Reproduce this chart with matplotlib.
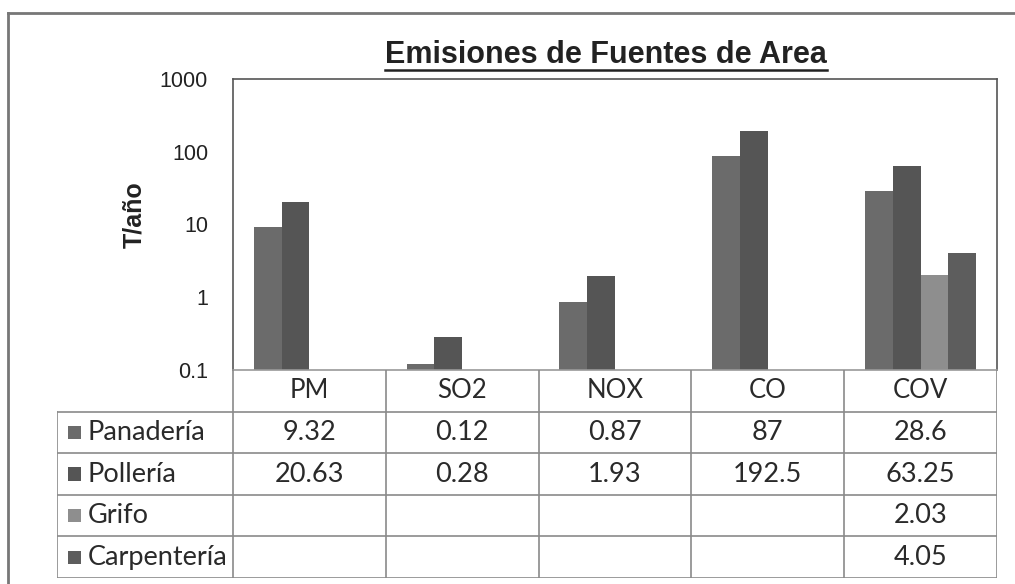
import numpy as np
import matplotlib
matplotlib.use("Agg")
import matplotlib.pyplot as plt
from matplotlib.patches import Rectangle
from matplotlib.lines import Line2D

# ---- data ----
categories = ["PM", "SO2", "NOX", "CO", "COV"]
series_names = ["Panadería", "Pollería", "Grifo", "Carpentería"]
panaderia = [9.32, 0.12, 0.87, 87, 28.6]
polleria = [20.63, 0.28, 1.93, 192.5, 63.25]
grifo = [None, None, None, None, 2.03]
carpenteria = [None, None, None, None, 4.05]
table_text = [
    ["9.32", "0.12", "0.87", "87", "28.6"],
    ["20.63", "0.28", "1.93", "192.5", "63.25"],
    ["", "", "", "", "2.03"],
    ["", "", "", "", "4.05"],
]
ytick_vals = [0.1, 1, 10, 100, 1000]
ytick_labels = ["0.1", "1", "10", "100", "1000"]
title = "Emisiones de Fuentes de Area"
ylabel = "T/año"

colors = ["#6b6b6b", "#555555", "#8e8e8e", "#5d5d5d"]

W, H = 1015, 584
fig = plt.figure(figsize=(W / 100, H / 100), dpi=100)

def fx(px):
    return px / W

def fy(py):
    return 1 - py / H

arial = ["Liberation Sans", "DejaVu Sans"]
calibri = ["Lato", "DejaVu Sans"]

# ---- bar axes ----
L, R, T, B = 233, 997, 79, 370
ax = fig.add_axes([fx(L), fy(B), fx(R - L), (B - T) / H])
ax.set_yscale("log")
ax.set_ylim(0.1, 1000)
ax.set_xlim(-0.5, len(categories) - 0.5)

all_series = [panaderia, polleria, grifo, carpenteria]
nser = len(all_series)
bw = 1.0 / (nser + 1.5)
x = np.arange(len(categories))
for i, (vals, c) in enumerate(zip(all_series, colors)):
    xs, hs = [], []
    for xi, v in zip(x, vals):
        if v is not None:
            xs.append(xi - 2 * bw + (i + 0.5) * bw)
            hs.append(v)
    ax.bar(xs, [h - 0.1 for h in hs], bottom=0.1, width=bw, color=c,
           edgecolor="none", align="center", zorder=2)

ax.set_yticks(ytick_vals)
ax.set_yticklabels(ytick_labels, fontfamily=arial, fontsize=15.5, color="#222222")
ax.yaxis.set_minor_locator(matplotlib.ticker.NullLocator())
ax.tick_params(axis="y", length=0, pad=18)
ax.set_xticks([])
for s in ax.spines.values():
    s.set_color("#555555")
    s.set_linewidth(1.2)
ax.spines["bottom"].set_color("#999999")

fig.text(fx(134), fy(215), ylabel, rotation=90, ha="center", va="center",
         fontsize=18, fontweight="bold", fontfamily=arial, color="#222222")

# title with underline
tt = fig.text(fx(606), fy(55), title, ha="center", va="center",
              fontsize=22, fontweight="bold", fontfamily=arial, color="#222222")
fig.canvas.draw()
bb = tt.get_window_extent()
fig.add_artist(Line2D([bb.x0 / W, bb.x1 / W], [(bb.y0 + 0.5) / H, (bb.y0 + 0.5) / H],
                      transform=fig.transFigure, color="#222222", lw=1.8))

# ---- data table ----
TL, TT, TB = 57, 370, 578
tax = fig.add_axes([fx(TL), fy(TB), fx(R - TL), (TB - TT) / H])
colw = (R - L) / len(categories)
left_units = (L - TL) / colw
tax.set_xlim(-0.5 - left_units, len(categories) - 0.5)
nrows = len(series_names) + 1
tax.set_ylim(0, nrows)
tax.axis("off")
gc = "#8a8a8a"
for r in range(nrows):
    tax.plot([-0.5 - left_units, len(categories) - 0.5], [r, r], color=gc, lw=1.2,
             solid_capstyle="butt")
for j in range(len(categories) + 1):
    tax.plot([j - 0.5, j - 0.5], [0, nrows], color=gc, lw=1.2)
tax.plot([-0.5 - left_units] * 2, [0, nrows - 1], color=gc, lw=1.2)

fs = 19.5
for j, cat in enumerate(categories):
    tax.text(j, nrows - 0.5, cat, ha="center", va="center", fontsize=18.5,
             fontfamily=calibri, color="#2a2a2a")
for i, name in enumerate(series_names):
    yc = nrows - 1.5 - i
    tax.text(-0.5 - left_units + 0.2, yc, name, ha="left", va="center",
             fontsize=fs, fontfamily=calibri, color="#2a2a2a")
    tax.add_patch(Rectangle((-0.5 - left_units + 0.07, yc - 0.16), 0.085, 0.32,
                            color=colors[i], lw=0))
    for j in range(len(categories)):
        tax.text(j, yc, table_text[i][j], ha="center", va="center",
                 fontsize=fs, fontfamily=calibri, color="#2a2a2a")

# outer frame
fig.add_artist(Line2D([fx(8), fx(1015)], [fy(13), fy(13)], transform=fig.transFigure,
                      color="#777777", lw=2))
fig.add_artist(Line2D([fx(8), fx(8)], [fy(13), fy(584)], transform=fig.transFigure,
                      color="#777777", lw=2))

fig.savefig("out.png", dpi=100)
